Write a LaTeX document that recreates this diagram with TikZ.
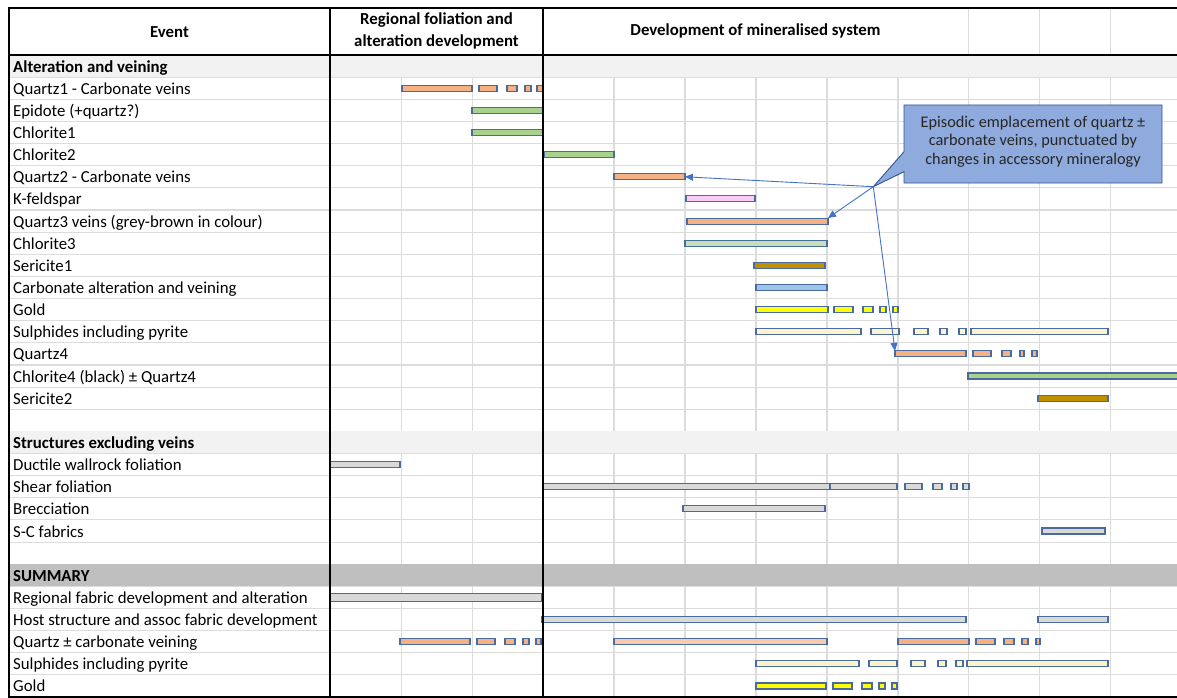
\documentclass[tikz,border=0pt]{standalone}
\usepackage{fontspec}
\setmainfont{Carlito}
\usetikzlibrary{arrows.meta,calc}
\definecolor{qz}{HTML}{F4B183}
\definecolor{lqz}{HTML}{F8CBAD}
\definecolor{grn}{HTML}{A9D18E}
\definecolor{lgrn}{HTML}{C5E0B4}
\definecolor{pnk}{HTML}{FBCBF7}
\definecolor{ser}{HTML}{BF9000}
\definecolor{cbl}{HTML}{9DC3E6}
\definecolor{yel}{HTML}{FFFF00}
\definecolor{crm}{HTML}{FFF2CC}
\definecolor{gry}{HTML}{D9D9D9}
\definecolor{barline}{HTML}{4A6B9D}
\definecolor{grid}{HTML}{DCDCDC}
\definecolor{band}{HTML}{F2F2F2}
\definecolor{dband}{HTML}{BFBFBF}
\definecolor{callfill}{HTML}{8FAADC}
\definecolor{callline}{HTML}{2F5597}
\definecolor{arrcol}{HTML}{4472C4}
\definecolor{calltext}{HTML}{262626}
\newcommand\lblfont{\fontsize{16.8}{19}\selectfont}
\tikzset{
  barn/.style={draw=barline, line width=1.1pt, rectangle, inner sep=0pt, outer sep=0pt, minimum height=6pt},
  lbl/.style={anchor=base west, font=\lblfont, text=black, inner sep=0pt},
  blbl/.style={lbl, font=\lblfont\bfseries},
  hdr/.style={anchor=center, font=\lblfont\bfseries, align=center, inner sep=0pt},
  gridline/.style={draw=grid, line width=1.1pt},
  thick line/.style={draw=black, line width=2pt},
  arr/.style={draw=arrcol, line width=0.9pt, -{Triangle[length=8pt,width=7pt]}},
}
\newcommand\bars[5][]{%
  \foreach \a/\b [count=\k] in {#5}{%
    \node[barn,fill=#4,minimum width={(\b-\a)*1pt},#1] (#2-\k) at ({(\a+\b)/2},{66.07+22.14*#3}) {};}}
\newcommand\lab[3]{\node[lbl] (#1) at (13,{66.07+22.14*#2+6}) {#3};}
\newcommand\blab[3]{\node[blbl] (#1) at (13,{66.07+22.14*#2+6}) {#3};}
\begin{document}
\begin{tikzpicture}[x=1pt,y=-1pt]
\useasboundingbox (0,0) rectangle (1177,698);
\fill[white] (0,0) rectangle (1177,698);
% vertical thin grid lines in chart area
\foreach \x in {401.5,472.5,614,685,756,827,898,968.5,1039.4,1110.3}
  \draw[gridline] (\x,55) -- (\x,697);
% header thin verticals
\foreach \x in {968.5,1039.4,1110.3}
  \draw[gridline] (\x,8) -- (\x,55);
% bands
\fill[band] (9,55) rectangle (1177,77.14);
\fill[band] (9,{55+22.14*17}) rectangle (1177,{55+22.14*18});
\fill[dband] (9,{55+22.14*23}) rectangle (1177,{55+22.14*24});
% horizontal grid lines
\foreach \i in {1,...,16,18,19,20,21,22,24,25,26,27,28}
  \draw[gridline] (9,{55+22.14*\i}) -- (1177,{55+22.14*\i});
% bars: alteration and veining
\bars{q1}{1}{qz}{402/472,479/497,507/517,525/531,537/543}
\bars{ep}{2}{grn}{472/543}
\bars{ca}{3}{grn}{472/543}
\bars{cb}{4}{grn}{544/614}
\bars{q2}{5}{qz}{614/685}
\bars{kf}{6}{pnk}{686/755}
\bars{q3}{7}{qz}{687/828}
\bars{cc}{8}{lgrn}{685/827}
\bars{sa}{9}{ser}{754/825}
\bars{co}{10}{cbl}{756/827}
\bars{au}{11}{yel}{756/828,834/853,863/873,880/886,893/898}
\bars{su}{12}{crm}{756/861,871/899,914/928,940/947,959/966,971/1108}
\bars{q4}{13}{qz}{895/966,973/991,1002/1011,1020/1024,1032/1037}
\bars{cd}{14}{grn}{968/1190}
\bars{sb}{15}{ser}{1038/1108}
% structures
\bars{du}{18}{gry}{330/400}
\bars{sh}{19}{gry}{543/831,830/897,905/922,933/942,951/957,963/969}
\bars{br}{20}{gry}{683/825}
\bars{sc}{21}{gry}{1042/1105}
% summary
\bars[minimum height=8pt]{rg}{24}{gry}{330/542}
\bars{hs}{25}{gry}{542/966,1038/1108}
\bars{sq}{26}{qz}{400/470,477/495,505/515,523/529,536/541,898/969,976/995,1004/1014,1022/1028,1036/1040}
\bars{sl}{26}{lqz}{614/827}
\bars{ss}{27}{crm}{756/859,869/897,911/925,938/946,956/963,967/1108}
\bars{sg}{28}{yel}{756/826,833/852,862/872,879/885,892/897}
% thick lines
\draw[thick line] (9,8) -- (1177,8);
\draw[thick line] (9,55) -- (1177,55);
\draw[thick line] (9,697) -- (1177,697);
\draw[thick line] (9,7) -- (9,698);
\draw[thick line] (330,7) -- (330,698);
\draw[thick line] (543,7) -- (543,698);
% header
\node[hdr] (hev) at (169.5,32) {Event};
\node[hdr, font=\fontsize{16.8}{22}\selectfont\bfseries] (hreg) at (436.5,31) {Regional foliation and\\alteration development};
\node[hdr] (hdev) at (755.5,31) {Development of mineralised system};
% labels
\blab{l0}{0}{Alteration and veining}
\lab{l1}{1}{Quartz1 - Carbonate veins}
\lab{l2}{2}{Epidote (+quartz?)}
\lab{l3}{3}{Chlorite1}
\lab{l4}{4}{Chlorite2}
\lab{l5}{5}{Quartz2 - Carbonate veins}
\lab{l6}{6}{K-feldspar}
\lab{l7}{7}{Quartz3 veins (grey-brown in colour)}
\lab{l8}{8}{Chlorite3}
\lab{l9}{9}{Sericite1}
\lab{l10}{10}{Carbonate alteration and veining}
\lab{l11}{11}{Gold}
\lab{l12}{12}{Sulphides including pyrite}
\lab{l13}{13}{Quartz4}
\lab{l14}{14}{Chlorite4 (black) ± Quartz4}
\lab{l15}{15}{Sericite2}
\blab{l17}{17}{Structures excluding veins}
\lab{l18}{18}{Ductile wallrock foliation}
\lab{l19}{19}{Shear foliation}
\lab{l20}{20}{Brecciation}
\lab{l21}{21}{S-C fabrics}
\blab{l23}{23}{SUMMARY}
\lab{l24}{24}{Regional fabric development and alteration}
\lab{l25}{25}{Host structure and assoc fabric development}
\lab{l26}{26}{Quartz ± carbonate veining}
\lab{l27}{27}{Sulphides including pyrite}
\lab{l28}{28}{Gold}
% callout
\path[fill=callfill, draw=callline, line width=0.9pt] (904,105) -- (1162,105) -- (1162,183) -- (904,183) -- (904,171.7) -- (873.3,186.7) -- (904,151.7) -- cycle;
\coordinate (tip) at (873.3,186.7);
\node[align=center, font=\fontsize{16.3}{18.5}\selectfont, text=calltext, inner sep=0pt] (callout) at (1033,141.5) {Episodic emplacement of quartz ±\\carbonate veins, punctuated by\\changes in accessory mineralogy};
\draw[arr] (tip) -- (q2-1.east);
\draw[arr] (tip) -- (q3-1.north east);
\draw[arr] (tip) -- (q4-1.north west);
\end{tikzpicture}
\end{document}
